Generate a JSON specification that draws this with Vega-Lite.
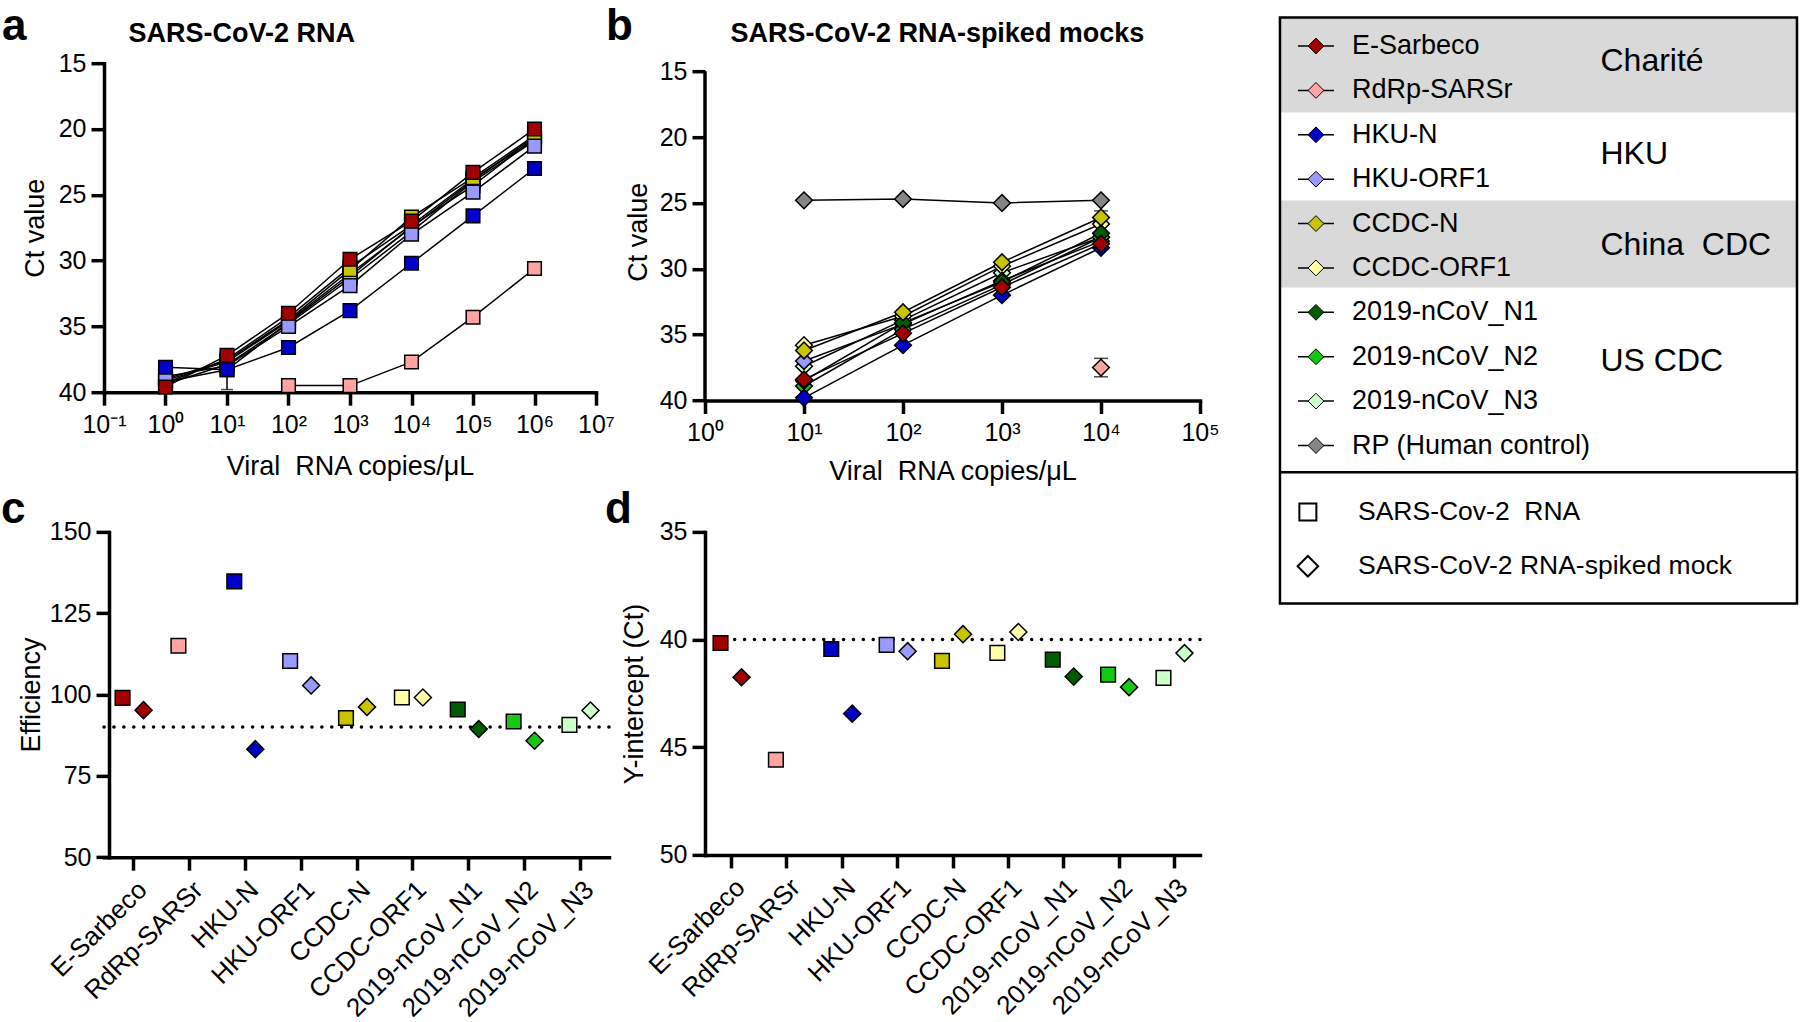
{
"$schema":"https://vega.github.io/schema/vega-lite/v6.json",
"background":"white",
"padding":{"left":1,"top":5.2,"right":0,"bottom":0},
"config":{
 "font":"Liberation Sans",
 "view":{"stroke":null},
 "axis":{"domainColor":"black","domainWidth":3.5,"domainCap":"square","tickColor":"black","tickWidth":3.5,"tickSize":13,"labelColor":"black","labelFontSize":25,"labelFont":"Liberation Sans","titleFont":"Liberation Sans","titleFontSize":27,"titleFontWeight":"normal","titleColor":"black","grid":false,"labelPadding":5,"labelOverlap":false,"labelFlush":false,"labelBound":false},
 "title":{"font":"Liberation Sans","color":"black"},
 "text":{"font":"Liberation Sans","color":"black"}
},
"datasets":{
 "rna":[
  {"assay":"RdRp-SARSr","conc":100,"ct":39.5},{"assay":"RdRp-SARSr","conc":1000,"ct":39.5},{"assay":"RdRp-SARSr","conc":10000,"ct":37.7},{"assay":"RdRp-SARSr","conc":100000,"ct":34.3},{"assay":"RdRp-SARSr","conc":1000000,"ct":30.6},
  {"assay":"2019-nCoV_N3","conc":1,"ct":39.1},{"assay":"2019-nCoV_N3","conc":10,"ct":37.7},{"assay":"2019-nCoV_N3","conc":100,"ct":34.6},{"assay":"2019-nCoV_N3","conc":1000,"ct":31.0},{"assay":"2019-nCoV_N3","conc":10000,"ct":27.5},{"assay":"2019-nCoV_N3","conc":100000,"ct":23.9},{"assay":"2019-nCoV_N3","conc":1000000,"ct":20.6},
  {"assay":"2019-nCoV_N2","conc":1,"ct":39.4},{"assay":"2019-nCoV_N2","conc":10,"ct":37.9},{"assay":"2019-nCoV_N2","conc":100,"ct":34.8},{"assay":"2019-nCoV_N2","conc":1000,"ct":31.4},{"assay":"2019-nCoV_N2","conc":10000,"ct":27.8},{"assay":"2019-nCoV_N2","conc":100000,"ct":24.0},{"assay":"2019-nCoV_N2","conc":1000000,"ct":20.9},
  {"assay":"2019-nCoV_N1","conc":1,"ct":39.3},{"assay":"2019-nCoV_N1","conc":10,"ct":37.5},{"assay":"2019-nCoV_N1","conc":100,"ct":34.3},{"assay":"2019-nCoV_N1","conc":1000,"ct":30.5},{"assay":"2019-nCoV_N1","conc":10000,"ct":27.3},{"assay":"2019-nCoV_N1","conc":100000,"ct":23.8},{"assay":"2019-nCoV_N1","conc":1000000,"ct":20.8},
  {"assay":"CCDC-ORF1","conc":1,"ct":39.2},{"assay":"CCDC-ORF1","conc":10,"ct":38.3,"lo":36.8,"hi":39.8},{"assay":"CCDC-ORF1","conc":100,"ct":34.7},{"assay":"CCDC-ORF1","conc":1000,"ct":31.2},{"assay":"CCDC-ORF1","conc":10000,"ct":27.4},{"assay":"CCDC-ORF1","conc":100000,"ct":24.3},{"assay":"CCDC-ORF1","conc":1000000,"ct":20.7},
  {"assay":"CCDC-N","conc":1,"ct":39.0},{"assay":"CCDC-N","conc":10,"ct":37.6},{"assay":"CCDC-N","conc":100,"ct":34.5},{"assay":"CCDC-N","conc":1000,"ct":30.7},{"assay":"CCDC-N","conc":10000,"ct":26.7},{"assay":"CCDC-N","conc":100000,"ct":23.7},{"assay":"CCDC-N","conc":1000000,"ct":20.5},
  {"assay":"HKU-ORF1","conc":1,"ct":38.8},{"assay":"HKU-ORF1","conc":10,"ct":38.0},{"assay":"HKU-ORF1","conc":100,"ct":35.0},{"assay":"HKU-ORF1","conc":1000,"ct":31.9},{"assay":"HKU-ORF1","conc":10000,"ct":28.0},{"assay":"HKU-ORF1","conc":100000,"ct":24.8},{"assay":"HKU-ORF1","conc":1000000,"ct":21.3},
  {"assay":"HKU-N","conc":1,"ct":38.1},{"assay":"HKU-N","conc":10,"ct":38.3},{"assay":"HKU-N","conc":100,"ct":36.6},{"assay":"HKU-N","conc":1000,"ct":33.8},{"assay":"HKU-N","conc":10000,"ct":30.2},{"assay":"HKU-N","conc":100000,"ct":26.6},{"assay":"HKU-N","conc":1000000,"ct":23.0},
  {"assay":"E-Sarbeco","conc":1,"ct":39.6},{"assay":"E-Sarbeco","conc":10,"ct":37.2},{"assay":"E-Sarbeco","conc":100,"ct":34.0},{"assay":"E-Sarbeco","conc":1000,"ct":29.9},{"assay":"E-Sarbeco","conc":10000,"ct":27.0},{"assay":"E-Sarbeco","conc":100000,"ct":23.3},{"assay":"E-Sarbeco","conc":1000000,"ct":20.0}
 ],
 "mock":[
  {"assay":"2019-nCoV_N3","conc":10,"ct":37.4},{"assay":"2019-nCoV_N3","conc":100,"ct":33.9},{"assay":"2019-nCoV_N3","conc":1000,"ct":30.3},{"assay":"2019-nCoV_N3","conc":10000,"ct":27.6},
  {"assay":"CCDC-ORF1","conc":10,"ct":35.8},{"assay":"CCDC-ORF1","conc":100,"ct":33.6},{"assay":"CCDC-ORF1","conc":1000,"ct":29.8},{"assay":"CCDC-ORF1","conc":10000,"ct":26.6},
  {"assay":"HKU-ORF1","conc":10,"ct":37.0},{"assay":"HKU-ORF1","conc":100,"ct":34.2},{"assay":"HKU-ORF1","conc":1000,"ct":30.9},{"assay":"HKU-ORF1","conc":10000,"ct":27.9},
  {"assay":"2019-nCoV_N2","conc":10,"ct":38.9},{"assay":"2019-nCoV_N2","conc":100,"ct":34.6},{"assay":"2019-nCoV_N2","conc":1000,"ct":31.2},{"assay":"2019-nCoV_N2","conc":10000,"ct":27.6},
  {"assay":"2019-nCoV_N1","conc":10,"ct":38.5},{"assay":"2019-nCoV_N1","conc":100,"ct":34.1},{"assay":"2019-nCoV_N1","conc":1000,"ct":31.0},{"assay":"2019-nCoV_N1","conc":10000,"ct":27.3},
  {"assay":"HKU-N","conc":10,"ct":39.8},{"assay":"HKU-N","conc":100,"ct":35.8},{"assay":"HKU-N","conc":1000,"ct":32.0},{"assay":"HKU-N","conc":10000,"ct":28.4},
  {"assay":"E-Sarbeco","conc":10,"ct":38.4},{"assay":"E-Sarbeco","conc":100,"ct":34.9},{"assay":"E-Sarbeco","conc":1000,"ct":31.4},{"assay":"E-Sarbeco","conc":10000,"ct":28.1},
  {"assay":"CCDC-N","conc":10,"ct":36.2},{"assay":"CCDC-N","conc":100,"ct":33.3},{"assay":"CCDC-N","conc":1000,"ct":29.5},{"assay":"CCDC-N","conc":10000,"ct":26.1,"lo":25.6,"hi":26.7},
  {"assay":"RP (Human control)","conc":10,"ct":24.8},{"assay":"RP (Human control)","conc":100,"ct":24.7},{"assay":"RP (Human control)","conc":1000,"ct":25.0},{"assay":"RP (Human control)","conc":10000,"ct":24.8},
  {"assay":"RdRp-SARSr","conc":10000,"ct":37.5,"lo":36.8,"hi":38.2}
 ],
 "params":[
  {"assay":"E-Sarbeco","sample":"RNA","eff":99.0,"icpt":40.16},{"assay":"E-Sarbeco","sample":"mock","eff":95.2,"icpt":41.75},
  {"assay":"RdRp-SARSr","sample":"RNA","eff":115.0,"icpt":45.58},
  {"assay":"HKU-N","sample":"RNA","eff":134.8,"icpt":40.44},{"assay":"HKU-N","sample":"mock","eff":83.2,"icpt":43.44},
  {"assay":"HKU-ORF1","sample":"RNA","eff":110.3,"icpt":40.25},{"assay":"HKU-ORF1","sample":"mock","eff":102.8,"icpt":40.54},
  {"assay":"CCDC-N","sample":"RNA","eff":92.8,"icpt":40.99},{"assay":"CCDC-N","sample":"mock","eff":96.2,"icpt":39.75},
  {"assay":"CCDC-ORF1","sample":"RNA","eff":99.1,"icpt":40.62},{"assay":"CCDC-ORF1","sample":"mock","eff":99.1,"icpt":39.65},
  {"assay":"2019-nCoV_N1","sample":"RNA","eff":95.4,"icpt":40.93},{"assay":"2019-nCoV_N1","sample":"mock","eff":89.4,"icpt":41.72},
  {"assay":"2019-nCoV_N2","sample":"RNA","eff":91.7,"icpt":41.63},{"assay":"2019-nCoV_N2","sample":"mock","eff":85.8,"icpt":42.21},
  {"assay":"2019-nCoV_N3","sample":"RNA","eff":90.7,"icpt":41.78},{"assay":"2019-nCoV_N3","sample":"mock","eff":95.1,"icpt":40.63}
 ],
 "legend":[
  {"assay":"E-Sarbeco","row":0},{"assay":"RdRp-SARSr","row":1},{"assay":"HKU-N","row":2},{"assay":"HKU-ORF1","row":3},{"assay":"CCDC-N","row":4},{"assay":"CCDC-ORF1","row":5},{"assay":"2019-nCoV_N1","row":6},{"assay":"2019-nCoV_N2","row":7},{"assay":"2019-nCoV_N3","row":8},{"assay":"RP (Human control)","row":9}
 ],
 "groups":[
  {"label":"Charité","row":0.33},{"label":"HKU","row":2.43},{"label":"China\u00a0\u00a0CDC","row":4.49},{"label":"US CDC","row":7.1}
 ],
 "bands":[{"y0":-0.642,"y1":1.5},{"y0":3.48,"y1":5.44}],
 "samples":[{"sample":"RNA","label":"SARS-Cov-2\u00a0\u00a0RNA","row":10.5},{"sample":"mock","label":"SARS-CoV-2 RNA-spiked mock","row":11.72}]
},
"resolve":{"scale":{"x":"independent","y":"independent","color":"independent","shape":"independent","size":"independent"}},
"bounds":"flush",
"align":"each",
"columns":3,
"spacing":{"row":130.7,"column":96},
"concat":[
 {"width":492,"height":329,
  "title":{"text":"a","anchor":"start","frame":"group","fontSize":44,"fontWeight":"bold","offset":-29.8,"dx":-102},
  "data":{"name":"rna"},
  "resolve":{"axis":{"x":"independent"}},
  "layer":[
   {"encoding":{
     "x":{"field":"conc","type":"quantitative","title":"Viral\u00a0\u00a0RNA copies/μL","scale":{"type":"log","domain":[0.1,10000000],"nice":false},"axis":{"values":[0.1,1,10,100,1000,10000,100000,1000000,10000000],"labelExpr":"'10' + ['⁻¹','⁰','¹','²','³','⁴','⁵','⁶','⁷'][round(log(datum.value)/LN10)+1]","labelPadding":7,"titlePadding":16}},
     "y":{"field":"ct","type":"quantitative","title":"Ct value","scale":{"domain":[15,40],"reverse":true,"nice":false,"zero":false},"axis":{"values":[15,20,25,30,35,40],"titlePadding":9}}
    },
    "layer":[
     {"mark":{"type":"line","color":"black","strokeWidth":1.5},"encoding":{"detail":{"field":"assay"}}},
     {"transform":[{"filter":"isValid(datum.lo)"}],"mark":{"type":"errorbar","color":"black","thickness":1.5,"ticks":{"size":12,"thickness":1.5,"color":"black"}},
      "encoding":{"y":{"field":"lo","type":"quantitative","title":"Ct value","scale":{"domain":[15,40],"reverse":true,"nice":false,"zero":false}},"y2":{"field":"hi"}}},
     {"mark":{"type":"point","shape":"square","filled":true,"size":185,"stroke":"black","strokeWidth":1.5,"opacity":1},
      "encoding":{"color":{"field":"assay","type":"nominal","legend":null,"scale":{"domain":["E-Sarbeco","RdRp-SARSr","HKU-N","HKU-ORF1","CCDC-N","CCDC-ORF1","2019-nCoV_N1","2019-nCoV_N2","2019-nCoV_N3","RP (Human control)"],"range":["#a00000","#ffa3a3","#0000c8","#9999ff","#c8c400","#ffffa6","#005c00","#14c814","#ccffcc","#858585"]}}}}
    ]},
   {"data":{"values":[{}]},"mark":{"type":"rule","strokeOpacity":0},
    "encoding":{"x":{"datum":1,"type":"quantitative","axis":{"orient":"top","domain":false,"ticks":false,"labels":false,"title":"SARS-CoV-2 RNA","titleFontWeight":"bold","titleFontSize":27,"titleX":24,"titleY":-21.7,"titleAlign":"left","titleBaseline":"alphabetic","titleAngle":0}}}}
  ]
 },
 {"width":495,"height":337.3,
  "title":{"text":"b","anchor":"start","frame":"group","fontSize":44,"fontWeight":"bold","offset":-29.5,"dx":-99},
  "data":{"name":"mock"},
  "resolve":{"axis":{"x":"independent"}},
  "layer":[
   {"encoding":{
     "x":{"field":"conc","type":"quantitative","title":"Viral\u00a0\u00a0RNA copies/μL","scale":{"type":"log","domain":[1,100000],"nice":false},"axis":{"values":[1,10,100,1000,10000,100000],"labelExpr":"'10' + ['⁰','¹','²','³','⁴','⁵'][round(log(datum.value)/LN10)]","labelPadding":7,"titlePadding":13}},
     "y":{"field":"ct","type":"quantitative","title":"Ct value","scale":{"domain":[14.385,40],"reverse":true,"nice":false,"zero":false},"axis":{"values":[15,20,25,30,35,40],"domain":false,"titlePadding":7}}
    },
    "layer":[
     {"data":{"values":[{"conc":1,"ct":15,"ct2":40}]},"mark":{"type":"rule","color":"black","strokeWidth":3.5},"encoding":{"y2":{"field":"ct2"}}},
     {"mark":{"type":"line","color":"black","strokeWidth":1.5},"encoding":{"detail":{"field":"assay"}}},
     {"transform":[{"filter":"isValid(datum.lo)"}],"mark":{"type":"errorbar","color":"black","thickness":1.5,"ticks":{"size":14,"thickness":1.5,"color":"black"}},
      "encoding":{"y":{"field":"lo","type":"quantitative","title":"Ct value","scale":{"domain":[14.385,40],"reverse":true,"nice":false,"zero":false}},"y2":{"field":"hi"}}},
     {"mark":{"type":"point","shape":"diamond","filled":true,"size":280,"stroke":"black","strokeWidth":1.5,"opacity":1},
      "encoding":{"color":{"field":"assay","type":"nominal","legend":null,"scale":{"domain":["E-Sarbeco","RdRp-SARSr","HKU-N","HKU-ORF1","CCDC-N","CCDC-ORF1","2019-nCoV_N1","2019-nCoV_N2","2019-nCoV_N3","RP (Human control)"],"range":["#a00000","#ffa3a3","#0000c8","#9999ff","#c8c400","#ffffa6","#005c00","#14c814","#ccffcc","#858585"]}}}}
    ]},
   {"data":{"values":[{}]},"mark":{"type":"rule","strokeOpacity":0},
    "encoding":{"x":{"datum":1,"type":"quantitative","axis":{"orient":"top","domain":false,"ticks":false,"labels":false,"title":"SARS-CoV-2 RNA-spiked mocks","titleFontWeight":"bold","titleFontSize":27,"titleX":25,"titleY":-21.4,"titleAlign":"left","titleBaseline":"alphabetic","titleAngle":0}}}}
  ]
 },
 {"width":501,"height":329,
  "layer":[
   {"data":{"name":"bands"},"mark":{"type":"rect","fill":"#d9d9d9"},
    "encoding":{"x":{"datum":0,"type":"quantitative","scale":{"domain":[0.031,1],"nice":false,"zero":false},"axis":null},"x2":{"datum":1},
     "y":{"field":"y0","type":"quantitative","scale":{"domain":[0.387,7.799],"reverse":true,"nice":false,"zero":false},"axis":null},"y2":{"field":"y1"}}},
   {"data":{"values":[{"y0":-0.642,"y1":12.56}]},"mark":{"type":"rect","fillOpacity":0,"stroke":"black","strokeWidth":2.5},
    "encoding":{"x":{"datum":0,"type":"quantitative"},"x2":{"datum":1},"y":{"field":"y0","type":"quantitative"},"y2":{"field":"y1"}}},
   {"data":{"values":[{"y":9.6}]},"mark":{"type":"rule","color":"black","strokeWidth":2.5},
    "encoding":{"x":{"datum":0,"type":"quantitative"},"x2":{"datum":1},"y":{"field":"y","type":"quantitative"}}},
   {"data":{"name":"legend"},"mark":{"type":"rule","color":"black","strokeWidth":1.5},
    "encoding":{"x":{"datum":0.0348,"type":"quantitative"},"x2":{"datum":0.1044},"y":{"field":"row","type":"quantitative"}}},
   {"data":{"name":"legend"},"mark":{"type":"point","shape":"diamond","filled":true,"size":250,"stroke":"black","strokeWidth":1,"opacity":1},
    "encoding":{"x":{"datum":0.0696,"type":"quantitative"},"y":{"field":"row","type":"quantitative"},
     "color":{"field":"assay","type":"nominal","legend":null,"scale":{"domain":["E-Sarbeco","RdRp-SARSr","HKU-N","HKU-ORF1","CCDC-N","CCDC-ORF1","2019-nCoV_N1","2019-nCoV_N2","2019-nCoV_N3","RP (Human control)"],"range":["#a00000","#ffa3a3","#0000c8","#9999ff","#c8c400","#ffffa6","#005c00","#14c814","#ccffcc","#858585"]}}}},
   {"data":{"name":"legend"},"mark":{"type":"text","align":"left","baseline":"middle","fontSize":27},
    "encoding":{"x":{"datum":0.1393,"type":"quantitative"},"y":{"field":"row","type":"quantitative"},"text":{"field":"assay"}}},
   {"data":{"name":"groups"},"mark":{"type":"text","align":"left","baseline":"middle","fontSize":32},
    "encoding":{"x":{"datum":0.62,"type":"quantitative"},"y":{"field":"row","type":"quantitative"},"text":{"field":"label"}}},
   {"data":{"name":"samples"},"mark":{"type":"point","filled":true,"fill":"white","stroke":"black","strokeWidth":2,"opacity":1},
    "encoding":{"x":{"datum":0.054,"type":"quantitative"},"y":{"field":"row","type":"quantitative"},
     "shape":{"field":"sample","type":"nominal","scale":{"domain":["RNA","mock"],"range":["square","diamond"]},"legend":null},
     "size":{"field":"sample","type":"ordinal","scale":{"domain":["RNA","mock"],"range":[289,424]},"legend":null}}},
   {"data":{"name":"samples"},"mark":{"type":"text","align":"left","baseline":"middle","fontSize":26.5},
    "encoding":{"x":{"datum":0.151,"type":"quantitative"},"y":{"field":"row","type":"quantitative"},"text":{"field":"label"}}}
  ]
 },
 {"width":505,"height":325.3,
  "title":{"text":"c","anchor":"start","frame":"group","fontSize":44,"fontWeight":"bold","offset":-12,"dx":-103},
  "data":{"name":"params"},
  "layer":[
   {"data":{"values":[{}]},"mark":{"type":"rule","color":"black","strokeWidth":3.5,"strokeDash":[0.1,9.8],"strokeCap":"round"},"encoding":{"y":{"datum":90,"type":"quantitative"}}},
   {"mark":{"type":"point","filled":true,"stroke":"black","strokeWidth":1.5,"opacity":1},
    "encoding":{
     "x":{"field":"assay","type":"nominal","title":null,"sort":["E-Sarbeco","RdRp-SARSr","HKU-N","HKU-ORF1","CCDC-N","CCDC-ORF1","2019-nCoV_N1","2019-nCoV_N2","2019-nCoV_N3"],"scale":{"type":"point","padding":0.52,"domain":["E-Sarbeco","RdRp-SARSr","HKU-N","HKU-ORF1","CCDC-N","CCDC-ORF1","2019-nCoV_N1","2019-nCoV_N2","2019-nCoV_N3"]},"axis":{"labelAngle":-45,"labelFontSize":26,"labelPadding":6}},
     "xOffset":{"field":"sample","type":"nominal","scale":{"type":"point","domain":["RNA","mock"],"range":[-10.5,10.5],"padding":0}},
     "y":{"field":"eff","type":"quantitative","title":"Efficiency","scale":{"domain":[50,150],"nice":false,"zero":false},"axis":{"values":[50,75,100,125,150],"offset":-5,"titlePadding":4}},
     "shape":{"field":"sample","type":"nominal","scale":{"domain":["RNA","mock"],"range":["square","diamond"]},"legend":null},
     "size":{"field":"sample","type":"ordinal","scale":{"domain":["RNA","mock"],"range":[215,290]},"legend":null},
     "color":{"field":"assay","type":"nominal","legend":null,"scale":{"domain":["E-Sarbeco","RdRp-SARSr","HKU-N","HKU-ORF1","CCDC-N","CCDC-ORF1","2019-nCoV_N1","2019-nCoV_N2","2019-nCoV_N3","RP (Human control)"],"range":["#a00000","#ffa3a3","#0000c8","#9999ff","#c8c400","#ffffa6","#005c00","#14c814","#ccffcc","#858585"]}}
    }}
  ]
 },
 {"width":495,"height":323,
  "title":{"text":"d","anchor":"start","frame":"group","fontSize":44,"fontWeight":"bold","offset":-11.7,"dx":-100},
  "data":{"name":"params"},
  "layer":[
   {"data":{"values":[{}]},"mark":{"type":"rule","color":"black","strokeWidth":3.5,"strokeDash":[0.1,9.8],"strokeCap":"round"},"encoding":{"y":{"datum":40,"type":"quantitative"}}},
   {"mark":{"type":"point","filled":true,"stroke":"black","strokeWidth":1.5,"opacity":1},
    "encoding":{
     "x":{"field":"assay","type":"nominal","title":null,"sort":["E-Sarbeco","RdRp-SARSr","HKU-N","HKU-ORF1","CCDC-N","CCDC-ORF1","2019-nCoV_N1","2019-nCoV_N2","2019-nCoV_N3"],"scale":{"type":"point","padding":0.47,"domain":["E-Sarbeco","RdRp-SARSr","HKU-N","HKU-ORF1","CCDC-N","CCDC-ORF1","2019-nCoV_N1","2019-nCoV_N2","2019-nCoV_N3"]},"axis":{"labelAngle":-45,"labelFontSize":26,"labelPadding":6}},
     "xOffset":{"field":"sample","type":"nominal","scale":{"type":"point","domain":["RNA","mock"],"range":[-10.5,10.5],"padding":0}},
     "y":{"field":"icpt","type":"quantitative","title":"Y-intercept (Ct)","scale":{"domain":[35,50],"reverse":true,"nice":false,"zero":false},"axis":{"values":[35,40,45,50],"titlePadding":11}},
     "shape":{"field":"sample","type":"nominal","scale":{"domain":["RNA","mock"],"range":["square","diamond"]},"legend":null},
     "size":{"field":"sample","type":"ordinal","scale":{"domain":["RNA","mock"],"range":[215,290]},"legend":null},
     "color":{"field":"assay","type":"nominal","legend":null,"scale":{"domain":["E-Sarbeco","RdRp-SARSr","HKU-N","HKU-ORF1","CCDC-N","CCDC-ORF1","2019-nCoV_N1","2019-nCoV_N2","2019-nCoV_N3","RP (Human control)"],"range":["#a00000","#ffa3a3","#0000c8","#9999ff","#c8c400","#ffffa6","#005c00","#14c814","#ccffcc","#858585"]}}
    }}
  ]
 }
]
}
